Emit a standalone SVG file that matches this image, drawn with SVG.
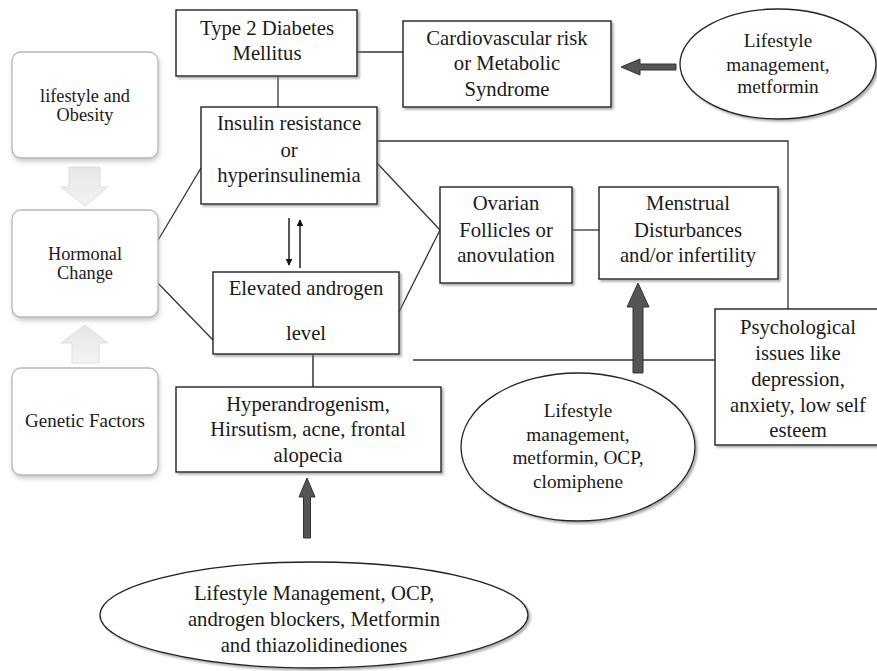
<svg xmlns="http://www.w3.org/2000/svg" width="877" height="671" viewBox="0 0 877 671" font-family="'Liberation Serif', 'DejaVu Serif', serif">
<defs>
<style>
.box{fill:#fff;stroke:#222;stroke-width:1.4;filter:url(#sh)}
.rbox{fill:#fff;stroke:#b8b8b8;stroke-width:1.3;filter:url(#sh2)}
.ell{fill:#fff;stroke:#222;stroke-width:1.3;filter:url(#sh)}
text{font-family:'Liberation Serif','DejaVu Serif',serif;font-size:20.7px;fill:#1a1a1a;text-anchor:middle}
.s{font-size:19.3px}
.l{font-size:18.3px}
.g{font-size:19px}
.ln{stroke:#333;stroke-width:1.3;fill:none}
.big{fill:#555;stroke:#333;stroke-width:1}
.ga{fill:url(#gg);stroke:#ddd;stroke-width:1}
</style>
<filter id="sh" x="-10%" y="-10%" width="130%" height="130%">
<feDropShadow dx="2" dy="2" stdDeviation="1" flood-color="#777" flood-opacity="0.6"/>
</filter>
<filter id="sh2" x="-10%" y="-10%" width="130%" height="130%">
<feDropShadow dx="1" dy="3" stdDeviation="2" flood-color="#999" flood-opacity="0.5"/>
</filter>
<linearGradient id="gg" x1="0" y1="0" x2="0" y2="1">
<stop offset="0" stop-color="#e6e6e6"/>
<stop offset="1" stop-color="#f3f3f3"/>
</linearGradient>
<marker id="ah" viewBox="0 0 10 10" refX="9" refY="5" markerWidth="5" markerHeight="5" orient="auto">
<path d="M0,0 L10,5 L0,10 z" fill="#111"/>
</marker>
</defs>
<rect width="877" height="671" fill="#fff"/>

<g id="connectors">
<line class="ln" x1="357" y1="52" x2="403" y2="52"/>
<line class="ln" x1="278" y1="76" x2="278" y2="107"/>
<line class="ln" x1="154" y1="247" x2="201" y2="168"/>
<line class="ln" x1="154" y1="279" x2="213" y2="340"/>
<line class="ln" x1="377" y1="163" x2="440" y2="230"/>
<line class="ln" x1="399" y1="312" x2="440" y2="230"/>
<line class="ln" x1="572" y1="230" x2="599" y2="230"/>
<polyline class="ln" points="377,141 788,141 788,309"/>
<line x1="313" y1="354" x2="313" y2="387" stroke="#666" stroke-width="2"/>
<line class="ln" x1="413" y1="360" x2="715" y2="360"/>
<line x1="289" y1="218" x2="289" y2="265" stroke="#111" stroke-width="1.4" marker-end="url(#ah)"/>
<line x1="300" y1="268" x2="300" y2="220" stroke="#111" stroke-width="1.4" marker-end="url(#ah)"/>
<path class="big" d="M621,67 L640,59 L640,64 L676,64 L676,70 L640,70 L640,75 Z"/>
<path class="big" d="M638,283 L649,307 L643,307 L643,373 L633,373 L633,307 L627,307 Z"/>
<path class="big" d="M307,478 L315,497 L310.5,497 L310.5,538 L303.5,538 L303.5,497 L299,497 Z"/>
<path class="ga" d="M69,167 L100,167 L100,187 L108,187 L85,206 L61,187 L69,187 Z"/>
<path class="ga" d="M85,325 L108,343 L99,343 L99,363 L72,363 L72,343 L61,343 Z"/>
</g>

<g id="lifestyle-obesity">
<rect class="rbox" x="12" y="52" width="146" height="106" rx="9"/>
<text class="l" x="85" y="102">lifestyle and</text>
<text class="l" x="85" y="121">Obesity</text>
</g>
<g id="hormonal-change">
<rect class="rbox" x="12" y="210" width="146" height="107" rx="9"/>
<text class="l" x="85" y="260">Hormonal</text>
<text class="l" x="85" y="279">Change</text>
</g>
<g id="genetic-factors">
<rect class="rbox" x="12" y="368" width="146" height="107" rx="9"/>
<text class="g" x="85" y="427">Genetic Factors</text>
</g>

<g id="t2dm">
<rect class="box" x="176" y="10" width="181" height="66"/>
<text x="267" y="35">Type 2 Diabetes</text>
<text x="267" y="60">Mellitus</text>
</g>
<g id="cardio">
<rect class="box" x="403" y="21" width="208" height="86"/>
<text x="507" y="45">Cardiovascular risk</text>
<text x="507" y="70">or Metabolic</text>
<text x="507" y="96">Syndrome</text>
</g>
<g id="treat-cardio">
<ellipse class="ell" cx="778" cy="64" rx="98" ry="55"/>
<text class="s" x="778" y="47">Lifestyle</text>
<text class="s" x="778" y="71">management,</text>
<text class="s" x="778" y="93">metformin</text>
</g>
<g id="insulin">
<rect class="box" x="201" y="107" width="176" height="97"/>
<text x="289" y="130">Insulin resistance</text>
<text x="289" y="157">or</text>
<text x="289" y="182">hyperinsulinemia</text>
</g>
<g id="androgen">
<rect class="box" x="213" y="272" width="186" height="82"/>
<text x="306" y="295">Elevated androgen</text>
<text x="306" y="340">level</text>
</g>
<g id="ovarian">
<rect class="box" x="440" y="187" width="132" height="96"/>
<text x="506" y="210">Ovarian</text>
<text x="506" y="237">Follicles or</text>
<text x="506" y="262">anovulation</text>
</g>
<g id="menstrual">
<rect class="box" x="599" y="187" width="179" height="92"/>
<text x="688" y="210">Menstrual</text>
<text x="688" y="237">Disturbances</text>
<text x="688" y="262">and/or infertility</text>
</g>
<g id="psych">
<rect class="box" x="715" y="309" width="166" height="136"/>
<text x="798" y="334">Psychological</text>
<text x="798" y="360">issues like</text>
<text x="798" y="386">depression,</text>
<text x="798" y="412">anxiety, low self</text>
<text x="798" y="437">esteem</text>
</g>
<g id="hyperandrogenism">
<rect class="box" x="176" y="387" width="265" height="85"/>
<text x="308" y="411">Hyperandrogenism,</text>
<text x="308" y="436">Hirsutism, acne, frontal</text>
<text x="308" y="462">alopecia</text>
</g>
<g id="treat-menstrual">
<ellipse class="ell" cx="578" cy="447" rx="117" ry="74"/>
<text class="s" x="578" y="417">Lifestyle</text>
<text class="s" x="578" y="441">management,</text>
<text class="s" x="578" y="464">metformin, OCP,</text>
<text class="s" x="578" y="488">clomiphene</text>
</g>
<g id="treat-hyper">
<ellipse class="ell" cx="314" cy="615" rx="214" ry="53"/>
<text x="314" y="600">Lifestyle Management, OCP,</text>
<text x="314" y="626">androgen blockers, Metformin</text>
<text x="314" y="652">and thiazolidinediones</text>
</g>
</svg>
